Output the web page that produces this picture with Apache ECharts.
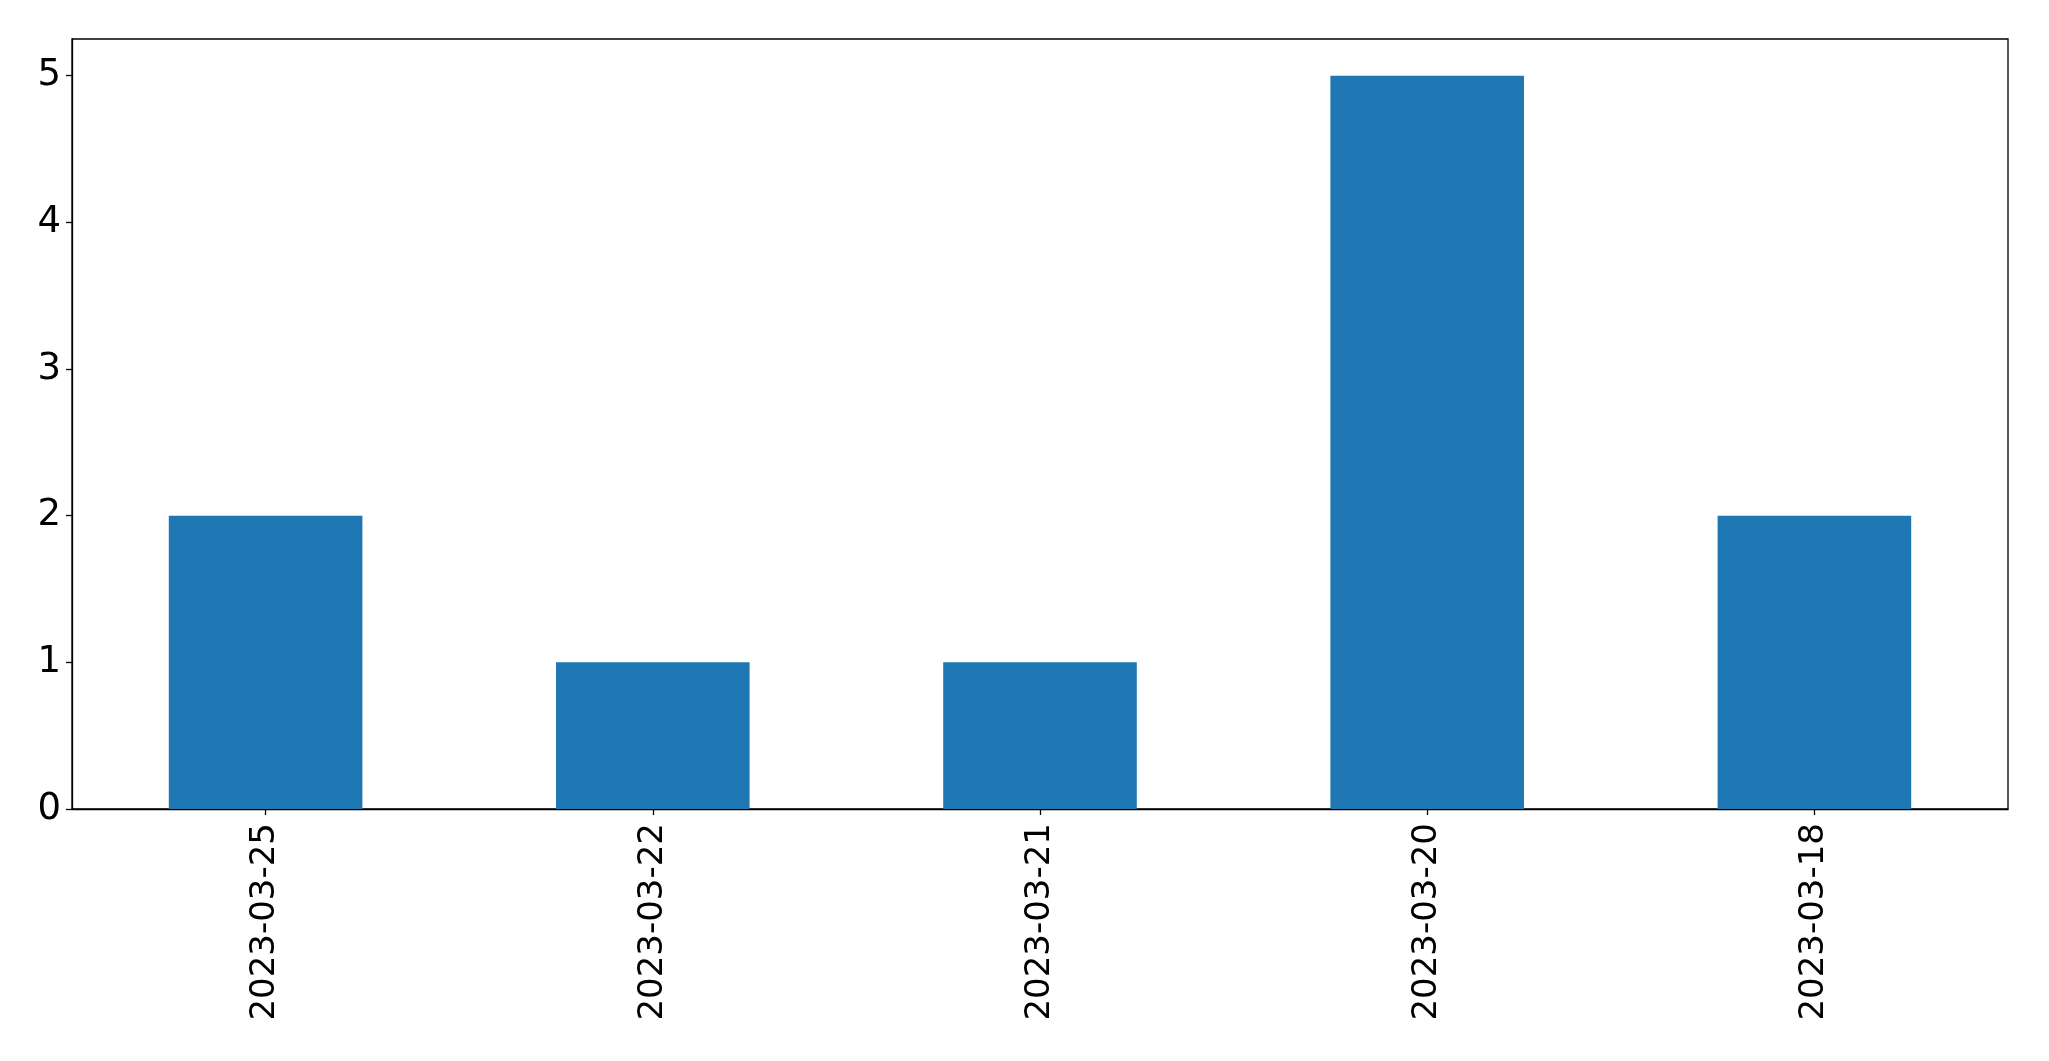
<!DOCTYPE html>
<html>
<head>
<meta charset="utf-8">
<style>
html,body{margin:0;padding:0;background:#fff;}
#chart{width:2049px;height:1061px;}
</style>
<script src="https://cdn.jsdelivr.net/npm/echarts@6/dist/echarts.min.js"></script>
</head>
<body>
<div id="chart"></div>
<script>
const categories = ['2023-03-25', '2023-03-22', '2023-03-21', '2023-03-20', '2023-03-18'];
const values = [2, 1, 1, 5, 2];
const yTicks = [0, 1, 2, 3, 4, 5];

const chart = echarts.init(document.getElementById('chart'));
const font = 'DejaVu Sans';
chart.setOption({
  animation: false,
  backgroundColor: '#ffffff',
  grid: {
    left: 72, right: 41, top: 39, bottom: 252,
    show: true, borderColor: '#000', borderWidth: 1.3, backgroundColor: 'transparent'
  },
  xAxis: {
    type: 'category',
    data: categories,
    boundaryGap: true,
    axisLine: { show: true, lineStyle: { color: '#000', width: 1.3 } },
    axisTick: { show: true, alignWithLabel: true, length: 6, lineStyle: { color: '#000', width: 1.3 } },
    axisLabel: { rotate: 90, margin: 14, color: '#000', fontSize: 34, fontFamily: font },
    splitLine: { show: false }
  },
  yAxis: {
    type: 'value',
    min: 0,
    max: 5.25,
    interval: 1,
    axisLine: { show: true, lineStyle: { color: '#000', width: 1.3 } },
    axisTick: { show: true, length: 6, customValues: yTicks, lineStyle: { color: '#000', width: 1.3 } },
    axisLabel: { margin: 11, color: '#000', fontSize: 37, fontFamily: font, customValues: yTicks },
    splitLine: { show: false }
  },
  series: [{
    type: 'bar',
    data: values,
    barWidth: '50%',
    itemStyle: { color: '#1f77b4' }
  }]
});
</script>
</body>
</html>
